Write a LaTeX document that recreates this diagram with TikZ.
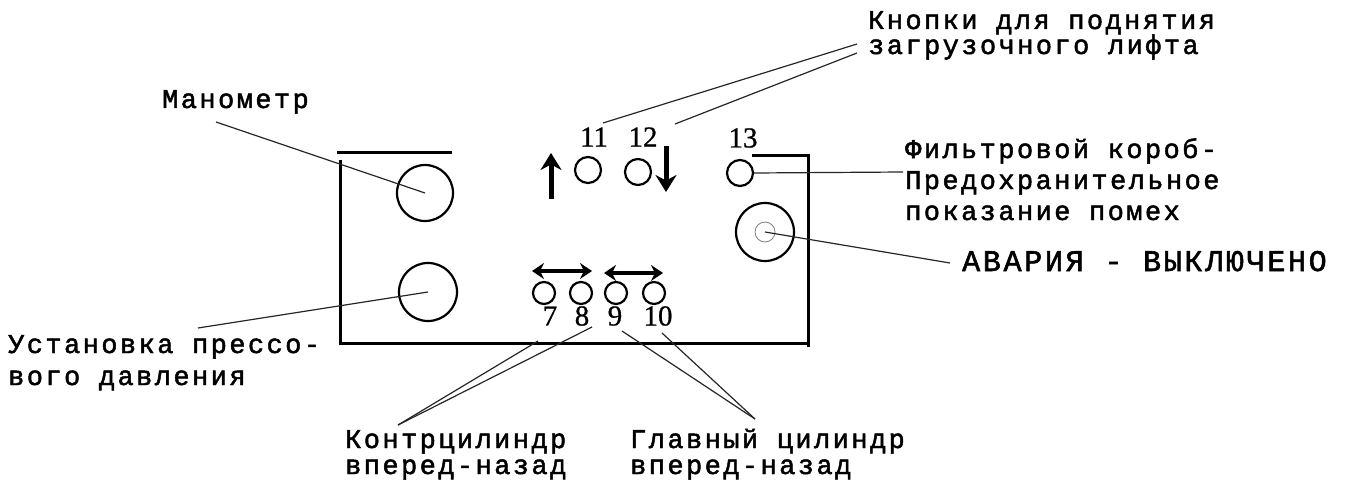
\documentclass[tikz,border=0pt]{standalone}
\usepackage{fontspec}
\newfontfamily\tw[FakeBold=1.8,LetterSpace=9]{Liberation Mono}
\newfontfamily\nf[FakeBold=0.8]{Liberation Serif}
\usetikzlibrary{arrows.meta}
\begin{document}
\begin{tikzpicture}[x=1pt,y=-1pt,
  tx/.style={font=\tw\fontsize{27}{30}\selectfont, inner sep=0pt, anchor=base west, align=left},
  num/.style={font=\nf\fontsize{29}{29}\selectfont, inner sep=0pt},
  btn/.style={draw, circle, line width=2.2pt, inner sep=0pt, minimum size=#1},
  frameline/.style={line width=3pt},
  lead/.style={line width=1.2pt, black!85},
  bigarrow/.style={line width=5pt, -{Stealth[length=17pt,width=21pt]}},
  dblarrow/.style={line width=3.2pt, {Stealth[length=12pt,width=16pt]}-{Stealth[length=12pt,width=16pt]}}]
\useasboundingbox (0,0) rectangle (1370,484);

% panel frame
\coordinate (ftl) at (337,152); \coordinate (ftr) at (452,152);
\coordinate (fl1) at (340,160); \coordinate (fbl) at (340,343);
\coordinate (fbr) at (808,343); \coordinate (frt) at (808,155);
\coordinate (frl) at (752,155); \coordinate (frb) at (808,347);
\draw[frameline] (ftl) -- (ftr);
\draw[frameline] (fl1) -- (fbl) -- (fbr);
\draw[frameline] (frl) -- (frt) -- (frb);

% big dials
\node[btn=56pt] (c1) at (425,193) {};
\node[btn=58pt] (c2) at (428,292) {};

% buttons 11 12 13
\node[btn=26pt] (c11) at (588,170) {};
\node[btn=26pt] (c12) at (638,172) {};
\node[btn=26pt] (c13) at (740,173) {};
\node[num] (n11) at (594,137) {11};
\node[num] (n12) at (643,137) {12};
\node[num] (n13) at (743,138) {13};
\coordinate (upA) at (551,199); \coordinate (upB) at (551,153);
\coordinate (dnA) at (666,146); \coordinate (dnB) at (666,192);
\draw[bigarrow] (upA) -- (upB);
\draw[bigarrow] (dnA) -- (dnB);

% buttons 7..10
\node[btn=22pt] (c7) at (544,293) {};
\node[btn=22pt] (c8) at (581,293) {};
\node[btn=22pt] (c9) at (616,293) {};
\node[btn=22pt] (c10) at (654,293) {};
\node[num] (n7) at (550,316) {7};
\node[num] (n8) at (582,316) {8};
\node[num] (n9) at (615,316) {9};
\node[num] (n10) at (658,316) {10};
\coordinate (a1l) at (532,271); \coordinate (a1r) at (592,271);
\coordinate (a2l) at (604,273); \coordinate (a2r) at (663,273);
\draw[dblarrow] (a1l) -- (a1r);
\draw[dblarrow] (a2l) -- (a2r);

% emergency button
\node[btn=58pt] (cav) at (765,232) {};
\node[draw=black!50, circle, line width=0.8pt, inner sep=0pt, minimum size=20pt] (cavi) at (765,232) {};

% labels (anchor = baseline of the last line)
\node[tx] (tman) at (162,108) {Манометр};
\node[tx, font=\tw\fontsize{27}{32}\selectfont] (tust) at (8,385) {Установка прессо-\\вого давления};
\node[tx, font=\tw\fontsize{27}{25}\selectfont] (tkn) at (868,54) {Кнопки для поднятия\\загрузочного лифта};
\node[tx, font=\tw\fontsize{27}{31}\selectfont] (tfil) at (905,220) {Фильтровой короб-\\Предохранительное\\показание помех};
\node[tx, font=\tw\fontsize{30}{30}\selectfont] (tav) at (962,271) {АВАРИЯ - ВЫКЛЮЧЕНО};
\node[tx, font=\tw\fontsize{27}{26}\selectfont] (tkc) at (345,474) {Контрцилиндр\\вперед-назад};
\node[tx, font=\tw\fontsize{27}{26}\selectfont] (tgl) at (630,474) {Главный цилиндр\\вперед-назад};

% leader lines
\coordinate (mS) at (216,122);
\draw[lead] (mS) -- (c1.center);
\coordinate (uS) at (198,328);
\draw[lead] (uS) -- (c2.center);
\coordinate (kA) at (857,44); \coordinate (kB) at (857,53);
\coordinate (kE11) at (603,123); \coordinate (kE12) at (675,124);
\draw[lead] (kA) -- (kE11);
\draw[lead] (kB) -- (kE12);
\coordinate (fE) at (903,172);
\draw[lead] (c13.east) -- (fE);
\coordinate (avE) at (950,263);
\draw[lead] (cav.center) -- (avE);
\coordinate (kcS) at (398,425);
\coordinate (e7) at (538,341); \coordinate (e8) at (592,327);
\draw[lead] (kcS) -- (e7);
\draw[lead] (kcS) -- (e8);
\coordinate (glS) at (755,419);
\coordinate (e9) at (622,331); \coordinate (e10) at (662,333);
\draw[lead] (glS) -- (e9);
\draw[lead] (glS) -- (e10);
\end{tikzpicture}
\end{document}
